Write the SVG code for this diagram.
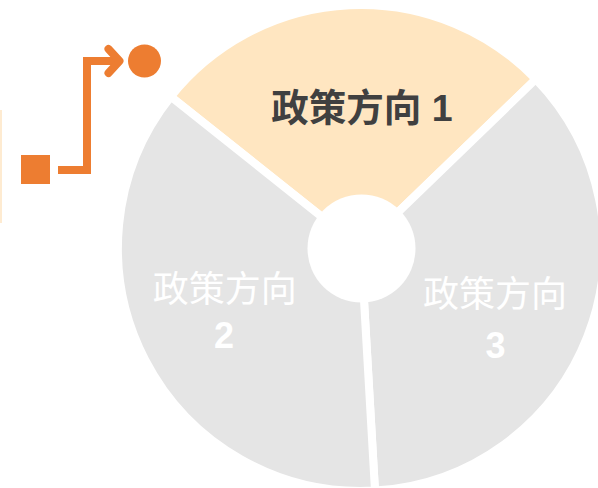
<svg xmlns="http://www.w3.org/2000/svg" width="598" height="488" viewBox="0 0 598 488">
<style>
.sec{stroke:#fff;stroke-width:8;stroke-linejoin:miter}
.hl{fill:#FFE6C1}
.gr{fill:#E5E5E5}
.t{font-family:"Noto Sans CJK SC","Noto Sans",sans-serif;font-size:36px;text-anchor:middle}
.dark{fill:#404040;font-weight:bold;font-size:37.5px}
.light{fill:#fff}
.num{font-family:"Liberation Sans","Noto Sans",sans-serif;font-weight:bold}
.ic{fill:none;stroke:#ED7D31;stroke-width:8}
</style>
<rect width="598" height="488" fill="#fff"/>
<rect x="0" y="110" width="2" height="113" fill="#FEEBD1"/>
<g id="sector-1">
<path class="sec hl" d="M361,248 L170.8,96.7 A243,243 0 0 1 535.8,79.2 Z"/>
<text class="t dark" x="362" y="121">政策方向 <tspan class="num" dx="2">1</tspan></text>
</g>
<g id="sector-3">
<path class="sec gr" d="M361,248 L535.8,79.2 A243,243 0 0 1 375,490.6 Z"/>
<text class="t light" x="495" y="307">政策方向</text>
<text class="t light num" x="495.4" y="358">3</text>
</g>
<g id="sector-2">
<path class="sec gr" d="M361,248 L375,490.6 A243,243 0 0 1 170.8,96.7 Z"/>
<text class="t light" x="224.7" y="302">政策方向</text>
<text class="t light num" x="224" y="348">2</text>
</g>
<g id="hub">
<circle cx="361.5" cy="248.5" r="54" fill="#fff"/>
</g>
<g id="icon">
<rect x="21" y="155" width="29" height="29" fill="#ED7D31"/>
<path class="ic" d="M58,170 H87 V61 H119" stroke-linejoin="miter"/>
<path class="ic" d="M108.5,49 L119.5,61 L108.5,73" stroke-linecap="round" stroke-linejoin="round"/>
<circle cx="144.5" cy="61" r="16.5" fill="#ED7D31"/>
</g>
</svg>
